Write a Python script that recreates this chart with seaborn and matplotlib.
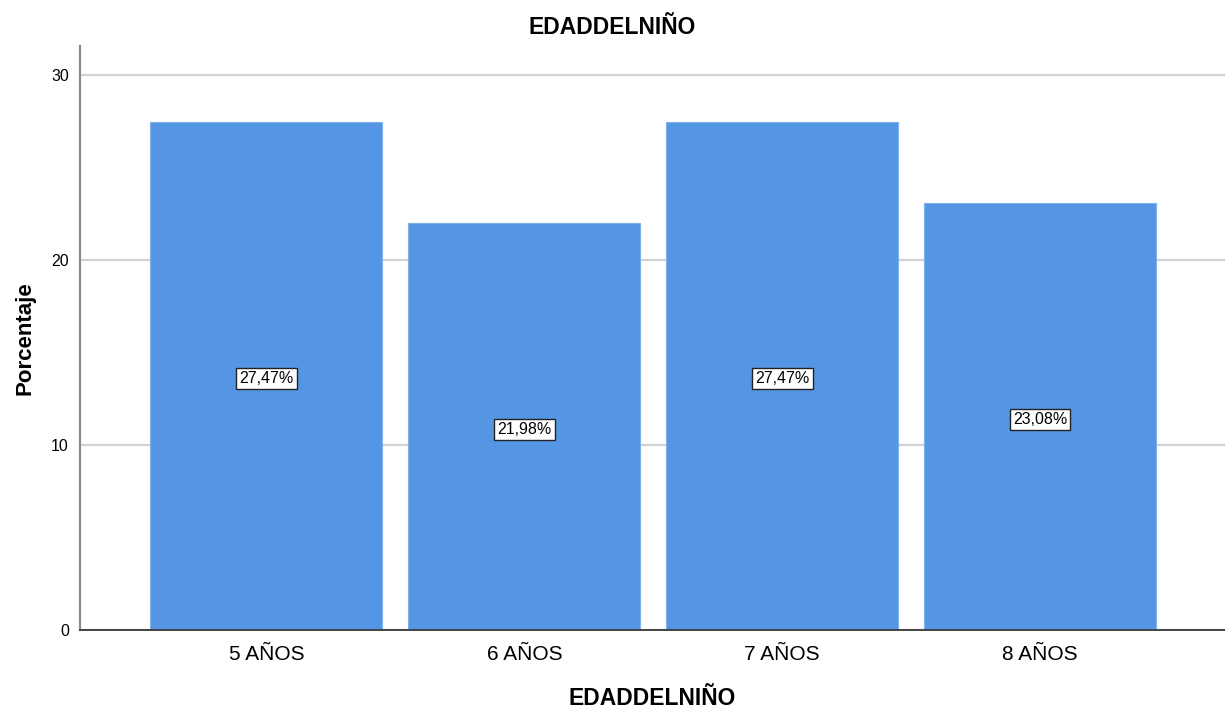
import matplotlib
matplotlib.use('Agg')
import matplotlib.pyplot as plt
import seaborn as sns
import pandas as pd

categorias = ['5 AÑOS', '6 AÑOS', '7 AÑOS', '8 AÑOS']
porcentajes = [27.47, 21.98, 27.47, 23.08]
etiquetas = ['27,47%', '21,98%', '27,47%', '23,08%']


def draw():
    sns.set_style('white')
    plt.rcParams['font.family'] = ['Liberation Sans', 'DejaVu Sans']
    plt.rcParams['text.color'] = 'black'
    plt.rcParams['axes.labelcolor'] = 'black'
    plt.rcParams['xtick.color'] = 'black'
    plt.rcParams['ytick.color'] = 'black'

    df = pd.DataFrame({'edad': categorias, 'pct': porcentajes})
    fig = plt.figure(figsize=(12.25, 7.11), dpi=100)
    ax = fig.add_axes([0.0653, 0.1139, 0.9347, 0.8214])

    ax.yaxis.grid(True, color='#d2d2d2', linewidth=1.6)
    ax.set_axisbelow(True)
    sns.barplot(data=df, x='edad', y='pct', color='#5596e4', saturation=1,
                width=0.9, edgecolor='#7fb0ec', linewidth=0.8, ax=ax)

    for i, (v, lab) in enumerate(zip(porcentajes, etiquetas)):
        ax.text(i, v / 2 - 0.15, lab, ha='center', va='center', fontsize=11.5,
                bbox=dict(boxstyle='square,pad=0.2', fc='white', ec='#222222', lw=1.0))

    ax.set_xlim(-0.723, 3.717)
    ax.set_ylim(0, 31.57)
    ax.set_yticks([0, 10, 20, 30])
    ax.tick_params(axis='y', length=0, pad=8, labelsize=11.5)
    ax.tick_params(axis='x', length=0, pad=11, labelsize=15)

    for s in ['top', 'right']:
        ax.spines[s].set_visible(False)
    ax.spines['left'].set_color('#8a8a8a')
    ax.spines['left'].set_linewidth(1.6)
    ax.spines['bottom'].set_color('#444444')
    ax.spines['bottom'].set_linewidth(1.4)

    ax.set_xlabel('EDADDELNIÑO', fontsize=16.5, fontweight='bold', labelpad=16)
    ax.set_ylabel('Porcentaje', fontsize=16, fontweight='bold', labelpad=11)
    fig.text(0.5, 1 - 28 / 711, 'EDADDELNIÑO', ha='center', va='center',
             fontsize=16.5, fontweight='bold')

    fig.savefig('out.png', dpi=100)


if __name__ == '__main__':
    draw()
